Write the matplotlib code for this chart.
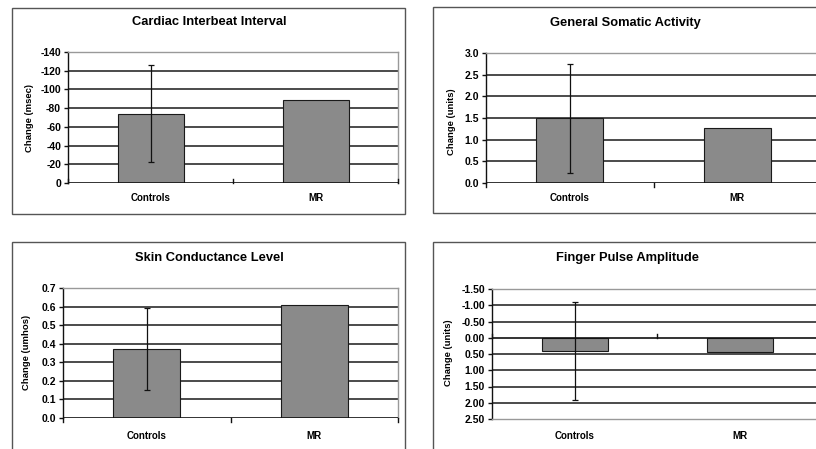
import matplotlib
matplotlib.use("Agg")
import matplotlib.pyplot as plt
from matplotlib.patches import Rectangle

plt.rcParams['font.family'] = ['Liberation Sans', 'DejaVu Sans']
plt.rcParams['font.weight'] = 'bold'

categories = ["Controls", "MR"]

cardiac_title = "Cardiac Interbeat Interval"
cardiac_values = [-74, -89]
cardiac_errors = [52, 0]
cardiac_ticks = [0, -20, -40, -60, -80, -100, -120, -140]
cardiac_ticklabels = ["0", "-20", "-40", "-60", "-80", "-100", "-120", "-140"]

somatic_title = "General Somatic Activity"
somatic_values = [1.49, 1.27]
somatic_errors = [1.26, 0]
somatic_ticks = [0.0, 0.5, 1.0, 1.5, 2.0, 2.5, 3.0]
somatic_ticklabels = ["0.0", "0.5", "1.0", "1.5", "2.0", "2.5", "3.0"]

skin_title = "Skin Conductance Level"
skin_values = [0.37, 0.61]
skin_errors = [0.22, 0]
skin_ticks = [0.0, 0.1, 0.2, 0.3, 0.4, 0.5, 0.6, 0.7]
skin_ticklabels = ["0.0", "0.1", "0.2", "0.3", "0.4", "0.5", "0.6", "0.7"]

finger_title = "Finger Pulse Amplitude"
finger_values = [0.42, 0.45]
finger_errors = [1.51, 0]
finger_ticks = [-1.5, -1.0, -0.5, 0.0, 0.5, 1.0, 1.5, 2.0, 2.5]
finger_ticklabels = ["-1.50", "-1.00", "-0.50", "0.00", "0.50", "1.00", "1.50", "2.00", "2.50"]

W, H = 816, 449
fig = plt.figure(figsize=(W / 100, H / 100), dpi=100)
fig.patch.set_facecolor("white")


def px_rect(x0, y0, x1, y1):
    return [x0 / W, 1 - y1 / H, (x1 - x0) / W, (y1 - y0) / H]


panels = [
    dict(title=cardiac_title, values=cardiac_values, errors=cardiac_errors,
         ticks=cardiac_ticks, labels=cardiac_ticklabels, ylim=(0, -140),
         ylabel="Change (msec)", ax=(68, 52, 398, 183), border=(12, 8, 405, 214),
         tx=209, ty=22, lx=30, ly=118, xl_y=198, inverted=True),
    dict(title=somatic_title, values=somatic_values, errors=somatic_errors,
         ticks=somatic_ticks, labels=somatic_ticklabels, ylim=(0, 3.0),
         ylabel="Change (units)", ax=(486, 53, 821, 183), border=(433, 7, 817, 213),
         tx=625, ty=23, lx=451, ly=122, xl_y=198, inverted=False),
    dict(title=skin_title, values=skin_values, errors=skin_errors,
         ticks=skin_ticks, labels=skin_ticklabels, ylim=(0, 0.7),
         ylabel="Change (umhos)", ax=(63, 288, 398, 418), border=(12, 242, 405, 470),
         tx=209, ty=258, lx=27, ly=352, xl_y=436, inverted=False),
    dict(title=finger_title, values=finger_values, errors=finger_errors,
         ticks=finger_ticks, labels=finger_ticklabels, ylim=(2.5, -1.5),
         ylabel="Change (units)", ax=(492, 289, 822, 419), border=(433, 242, 830, 470),
         tx=627, ty=258, lx=448, ly=353, xl_y=436, inverted=True),
]

for p in panels:
    bx0, by0, bx1, by1 = p["border"]
    fig.patches.append(Rectangle((bx0 / W, 1 - by1 / H), (bx1 - bx0) / W, (by1 - by0) / H,
                                 transform=fig.transFigure, fill=False,
                                 edgecolor="#555555", linewidth=1.0, zorder=0))
    x0, y0, x1, y1 = p["ax"]
    ax = fig.add_axes(px_rect(x0, y0, x1, y1))
    ax.set_facecolor("white")
    ax.set_xlim(-0.5, 1.5)
    ax.set_ylim(*p["ylim"])
    top_lim = p["ylim"][1]
    bottom_lim = p["ylim"][0]
    for t in p["ticks"]:
        if t in (top_lim, bottom_lim) or t == 0:
            continue
        ax.axhline(t, color="#1a1a1a", linewidth=1.1, zorder=1)
    x = list(range(len(categories)))
    ax.bar(x, p["values"], width=0.4, color="#8a8a8a", edgecolor="#1a1a1a",
           linewidth=0.8, zorder=2)
    ax.errorbar([x[0]], [p["values"][0]], yerr=[p["errors"][0]], fmt="none",
                ecolor="#111111", elinewidth=0.9, capsize=2, capthick=0.9, zorder=3)
    ax.axhline(0, color="#111111", linewidth=1.2, zorder=4)
    tick_len = abs(p["ylim"][1] - p["ylim"][0]) * 0.03
    for xt in [-0.5, 0.5, 1.5]:
        ax.plot([xt, xt], [0, -tick_len], color="#111111", linewidth=1.0,
                zorder=4, clip_on=False)
    for s in ["top", "right", "bottom"]:
        ax.spines[s].set_color("#999999")
        ax.spines[s].set_linewidth(1.0)
    if p["ylim"][0] == 0:
        ax.spines["bottom"].set_visible(False)
    ax.spines["left"].set_color("#111111")
    ax.spines["left"].set_linewidth(1.0)
    ax.set_yticks(p["ticks"])
    ax.set_yticklabels(p["labels"], fontsize=7.5, fontweight="bold")
    ax.tick_params(axis="y", length=3, width=1.0, pad=2, color="#111111")
    ax.set_xticks([])
    for xi, c in enumerate(categories):
        cxp = x0 + (x1 - x0) * (0.25 + 0.5 * xi)
        fig.text(cxp / W, 1 - p["xl_y"] / H, c, ha="center", va="center",
                 fontsize=7, fontweight="bold")
    fig.text(p["tx"] / W, 1 - p["ty"] / H, p["title"], ha="center", va="center",
             fontsize=9.3, fontweight="bold")
    fig.text(p["lx"] / W, 1 - p["ly"] / H, p["ylabel"], ha="center", va="center",
             rotation=90, fontsize=6.8, fontweight="bold")

fig.savefig("out.png", dpi=100)
